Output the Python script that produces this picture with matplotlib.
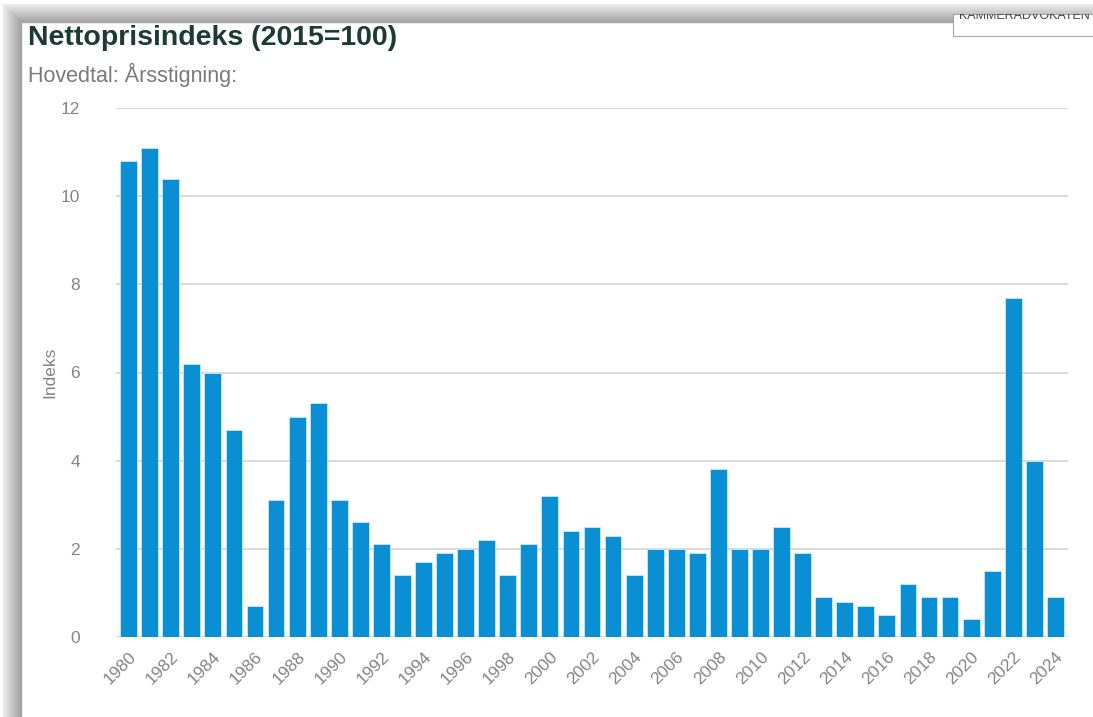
import matplotlib.pyplot as plt
import numpy as np
from matplotlib.patches import Rectangle

# data
years = list(range(1980, 2025))
values = [10.8, 11.1, 10.4, 6.2, 6.0, 4.7, 0.7, 3.1, 5.0, 5.3,
          3.1, 2.6, 2.1, 1.4, 1.7, 1.9, 2.0, 2.2, 1.4, 2.1,
          3.2, 2.4, 2.5, 2.3, 1.4, 2.0, 2.0, 1.9, 3.8, 2.0,
          2.0, 2.5, 1.9, 0.9, 0.8, 0.7, 0.5, 1.2, 0.9, 0.9,
          0.4, 1.5, 7.7, 4.0, 0.9]
yticks = [0, 2, 4, 6, 8, 10, 12]
xtick_years = years[::2]

W, H = 1093, 717
plt.rcParams['font.family'] = ['Liberation Sans', 'DejaVu Sans']
fig = plt.figure(figsize=(W / 100, H / 100), dpi=100)
fig.patch.set_facecolor('white')

# card shadow (left and top)
n = 18
for k in range(n):
    g = 0.93 - 0.30 * k / n
    fig.patches.append(Rectangle(((3 + k) / W, 0), 1 / W, (H - 5 - k) / H,
                                 transform=fig.transFigure, color=(g, g, g), zorder=0))
    fig.patches.append(Rectangle(((3 + k) / W, (H - 5 - k) / H), 1 - (3 + k) / W, 1 / H,
                                 transform=fig.transFigure, color=(g, g, g), zorder=0))

# little clipped logo box in the top right corner
bx = fig.add_axes([953 / W, (H - 36) / H, 150 / W, 22 / H], zorder=5)
bx.set_xlim(0, 1)
bx.set_ylim(0, 1)
bx.set_xticks([])
bx.set_yticks([])
for s in bx.spines.values():
    s.set_color('#a8a8a8')
bx.text(0.04, 0.92, 'KAMMERADVOKATEN', fontsize=9, color='#444444',
        va='center', ha='left', clip_on=True)

fig.text(28 / W, 1 - 38 / H, 'Nettoprisindeks (2015=100)', fontsize=20.5,
         fontweight='bold', color='#1c3b35', va='center', ha='left')
fig.text(28 / W, 1 - 75 / H, 'Hovedtal: Årsstigning:', fontsize=15.5,
         color='#7a7a7a', va='center', ha='left')

ax = fig.add_axes([116 / W, (H - 637) / H, (1068 - 116) / W, (637 - 108) / H])
x = np.arange(len(years))
ax.bar(x, values, width=0.8, color='#0a8fd4', edgecolor='#c4ecfb',
       linewidth=0.6, zorder=2)
ax.set_xlim(-0.6, len(years) - 0.4)
ax.set_ylim(0, 12)
ax.set_yticks(yticks)
ax.set_yticklabels([str(v) for v in yticks])
ax.grid(axis='y', color='#d4d4d4', linewidth=1.2, zorder=0)
ax.set_axisbelow(True)
for s in ax.spines.values():
    s.set_visible(False)
ax.tick_params(axis='both', length=0, labelsize=12.5, colors='#858585')
ax.tick_params(axis='y', pad=26)
ax.set_xticks([years.index(y) for y in xtick_years])
ax.set_xticklabels([str(y) for y in xtick_years], rotation=45, ha='right',
                   rotation_mode='anchor')
ax.tick_params(axis='x', pad=9)
ax.set_ylabel('Indeks', fontsize=12.5, color='#858585', labelpad=2)

fig.savefig('out.png', dpi=100, facecolor='white')
